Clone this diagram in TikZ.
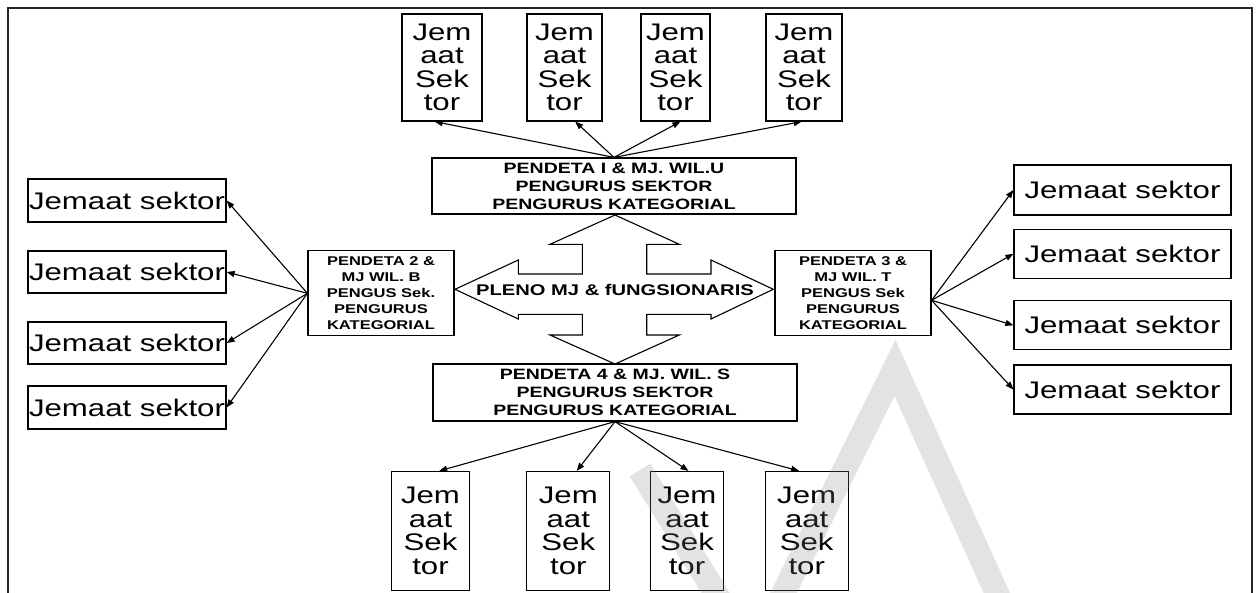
\documentclass[tikz,border=0pt]{standalone}
\usepackage{fontspec}
\setmainfont[FakeStretch=1.3]{Liberation Sans}
\usetikzlibrary{arrows.meta,calc}
\begin{document}
\begin{tikzpicture}[x=1pt,y=-1pt,
  box/.style={draw=black,line width=1.2pt,inner sep=0pt,align=center,fill=white},
  bigtxt/.style={font=\fontsize{24}{23.5}\selectfont},
  midtxt/.style={font=\fontsize{15}{18}\selectfont\bfseries},
  smalltxt/.style={font=\fontsize{12.7}{16}\selectfont\bfseries},
  conn/.style={line width=1.1pt,-{Triangle[length=8pt,width=6pt]}},
  wm/.style={line width=24pt,draw=gray,opacity=0.22,line cap=butt}
]
\useasboundingbox (0,0) rectangle (1256,592);
\fill[white] (0,0) rectangle (1256,592);
% frame
\draw[line width=1.5pt,black!85] (8,600) -- (8,8) -- (1252,8) -- (1252,600);

% top small boxes
\node[box,bigtxt,minimum width=80pt,minimum height=107pt] (t1) at (442,67.5) {Jem\\aat\\Sek\\tor};
\node[box,bigtxt,minimum width=75pt,minimum height=107pt] (t2) at (564.5,67.5) {Jem\\aat\\Sek\\tor};
\node[box,bigtxt,minimum width=69pt,minimum height=107pt] (t3) at (675.5,67.5) {Jem\\aat\\Sek\\tor};
\node[box,bigtxt,minimum width=76pt,minimum height=107pt] (t4) at (804,67.5) {Jem\\aat\\Sek\\tor};

% top centre box
\node[box,midtxt,minimum width=364pt,minimum height=56pt] (U) at (614,186) {PENDETA I \& MJ. WIL.U\\PENGURUS SEKTOR\\PENGURUS KATEGORIAL};

% bottom centre box
\node[box,midtxt,minimum width=364pt,minimum height=57pt] (S) at (615,392.5) {PENDETA 4 \& MJ. WIL. S\\PENGURUS SEKTOR\\PENGURUS KATEGORIAL};

% side boxes
\node[box,smalltxt,minimum width=146pt,minimum height=85pt] (B) at (381,293.3) {PENDETA 2 \&\\MJ WIL. B\\PENGUS Sek.\\PENGURUS\\KATEGORIAL};
\node[box,smalltxt,minimum width=156pt,minimum height=85pt] (T) at (853,293.3) {PENDETA 3 \&\\MJ WIL. T\\PENGUS Sek\\PENGURUS\\KATEGORIAL};

% left boxes
\node[box,bigtxt,minimum width=198pt,minimum height=43pt] (L1) at (127,200.5) {Jemaat sektor};
\node[box,bigtxt,minimum width=198pt,minimum height=42pt] (L2) at (127,272) {Jemaat sektor};
\node[box,bigtxt,minimum width=198pt,minimum height=42pt] (L3) at (127,343) {Jemaat sektor};
\node[box,bigtxt,minimum width=198pt,minimum height=43pt] (L4) at (127,407.5) {Jemaat sektor};

% right boxes
\node[box,bigtxt,minimum width=217pt,minimum height=50pt] (R1) at (1122.5,190) {Jemaat sektor};
\node[box,bigtxt,minimum width=217pt,minimum height=49pt] (R2) at (1122.5,253.8) {Jemaat sektor};
\node[box,bigtxt,minimum width=217pt,minimum height=49pt] (R3) at (1122.5,325.3) {Jemaat sektor};
\node[box,bigtxt,minimum width=217pt,minimum height=49pt] (R4) at (1122.5,389.5) {Jemaat sektor};

% bottom small boxes
\node[box,bigtxt,minimum width=78pt,minimum height=119pt] (b1) at (430.5,531) {Jem\\aat\\Sek\\tor};
\node[box,bigtxt,minimum width=83pt,minimum height=119pt] (b2) at (568.3,531) {Jem\\aat\\Sek\\tor};
\node[box,bigtxt,minimum width=73pt,minimum height=119pt] (b3) at (687,531) {Jem\\aat\\Sek\\tor};
\node[box,bigtxt,minimum width=83pt,minimum height=119pt] (b4) at (806.7,531) {Jem\\aat\\Sek\\tor};

% central four-way arrow
\draw[line width=1.1pt,fill=white] (455,289.3) -- (518.3,260) -- (518.3,274) -- (582.3,274) -- (582.3,244.3) -- (550,244.3)
  -- (615,215) -- (679.3,244.3) -- (646.7,244.3) -- (646.7,274) -- (711,274) -- (711,260)
  -- (773.3,289.3) -- (711,319) -- (711,314.3) -- (646.7,314.3) -- (646.7,335) -- (679.3,335)
  -- (615,364) -- (550,335) -- (582.3,335) -- (582.3,314.3) -- (518.3,314.3) -- (518.3,319) -- cycle;
\node[font=\fontsize{15.5}{18}\selectfont\bfseries,inner sep=0pt] (P) at (615,290) {PLENO MJ \& fUNGSIONARIS};

% connectors
\draw[conn] (U.north) -- ($(t1.south west)!0.41!(t1.south east)$);
\draw[conn] (U.north) -- ($(t2.south west)!0.64!(t2.south east)$);
\draw[conn] (U.north) -- ($(t3.south west)!0.57!(t3.south east)$);
\draw[conn] (U.north) -- ($(t4.south west)!0.47!(t4.south east)$);

\draw[conn] (S.south) -- ($(b1.north west)!0.61!(b1.north east)$);
\draw[conn] (S.south) -- ($(b2.north west)!0.60!(b2.north east)$);
\draw[conn] (S.south) -- ($(b3.north west)!0.52!(b3.north east)$);
\draw[conn] (S.south) -- ($(b4.north west)!0.41!(b4.north east)$);

\draw[conn] (B.west) -- (L1.east);
\draw[conn] (B.west) -- (L2.east);
\draw[conn] (B.west) -- (L3.east);
\draw[conn] (B.west) -- (L4.east);

\coordinate (Tout) at ([yshift=-7pt]T.east);
\draw[conn] (Tout) -- (R1.west);
\draw[conn] (Tout) -- (R2.west);
\draw[conn] (Tout) -- (R3.west);
\draw[conn] (Tout) -- (R4.west);

% watermark (light, over the drawing)
\draw[wm] (640,470) -- (720,600);
\draw[wm] (780,600) -- (895,368) -- (1000,600);
\end{tikzpicture}
\end{document}
